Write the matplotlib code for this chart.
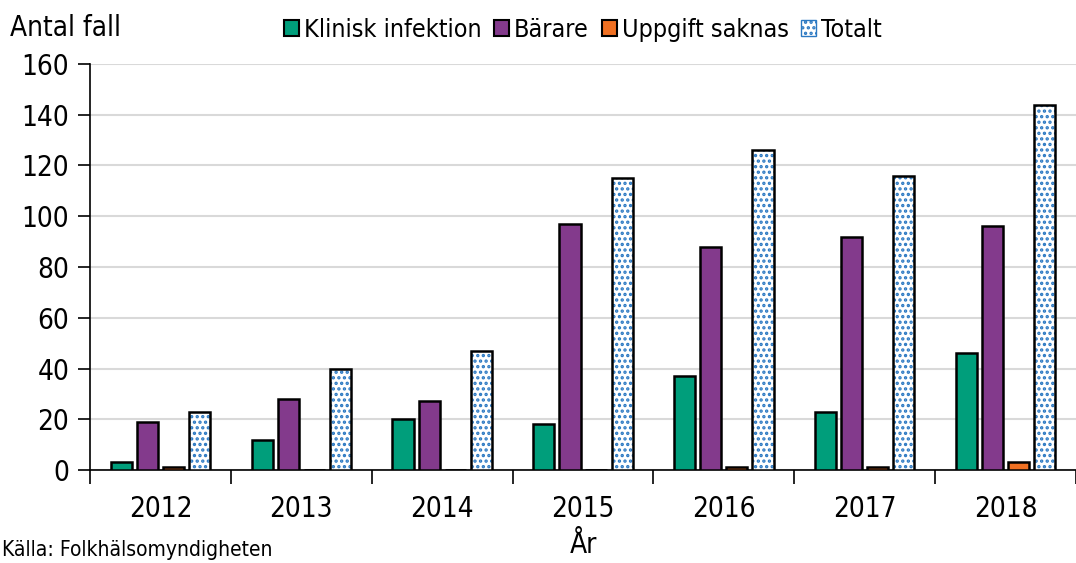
import matplotlib
matplotlib.use("Agg")
import matplotlib.pyplot as plt
import numpy as np
from matplotlib.patches import Patch

plt.rcParams['font.family'] = ['DejaVu Sans']
plt.rcParams['font.stretch'] = 'condensed'

years = ['2012', '2013', '2014', '2015', '2016', '2017', '2018']
klinisk = [3, 12, 20, 18, 37, 23, 46]
barare = [19, 28, 27, 97, 88, 92, 96]
saknas = [1, 0, 0, 0, 1, 1, 3]
totalt = [23, 40, 47, 115, 126, 116, 144]

green = '#009E7B'
purple = '#833A8C'
orange = '#F07022'
dotblue = '#2A78C2'

fig = plt.figure(figsize=(10.76, 5.63), dpi=100)
ax = fig.add_axes([90/1076, 93/563, 986/1076, 406/563])

x = np.arange(len(years))
w = 0.15
step = 0.185
ax.bar(x - 1.5*step, klinisk, w, color=green, edgecolor='black', linewidth=1.8, zorder=3)
ax.bar(x - 0.5*step, barare, w, color=purple, edgecolor='black', linewidth=1.8, zorder=3)
ax.bar(x + 0.5*step, saknas, w, color=orange, edgecolor='black', linewidth=1.8, zorder=3)
plt.rcParams['hatch.linewidth'] = 1.6
ax.bar(x + 1.5*step, totalt, w, color='white', edgecolor=dotblue, hatch='...', linewidth=0, zorder=3)
ax.bar(x + 1.5*step, totalt, w, fill=False, edgecolor='black', linewidth=1.8, zorder=4)

ax.set_xlim(-0.5, len(years) - 0.5)
ax.set_ylim(0, 160)
ax.set_yticks(np.arange(0, 161, 20))
ax.set_xticks(x)
ax.set_xticklabels(years)
ax.set_xticks(np.arange(-0.5, len(years)), minor=True)
ax.tick_params(axis='x', which='major', length=0, labelsize=20, pad=18)
ax.tick_params(axis='x', which='minor', length=10, width=1.2, direction='out')
ax.tick_params(axis='y', length=9, width=1.2, labelsize=20, pad=6)
ax.grid(axis='y', color='#d9d9d9', linewidth=1.5, zorder=0)
for s in ['top', 'right']:
    ax.spines[s].set_visible(False)
ax.spines['left'].set_linewidth(1.2)
ax.spines['bottom'].set_linewidth(1.2)

ax.set_xlabel('År', fontsize=20, labelpad=6)
fig.text(10/1076, 1 - 28/563, 'Antal fall', fontsize=20, va='center', ha='left')
fig.text(2/1076, 1 - 550/563, 'Källa: Folkhälsomyndigheten', fontsize=15, va='center', ha='left')

handles = [Patch(facecolor=green, edgecolor='black', linewidth=1.5),
           Patch(facecolor=purple, edgecolor='black', linewidth=1.5),
           Patch(facecolor=orange, edgecolor='black', linewidth=1.5),
           Patch(facecolor='white', edgecolor=dotblue, hatch='...')]
labels = ['Klinisk infektion', 'Bärare', 'Uppgift saknas', 'Totalt']
fig.legend(handles, labels, loc='center', bbox_to_anchor=(583/1076, 1 - 30/563), ncol=4,
           frameon=False, fontsize=18, handlelength=0.6, handleheight=0.6,
           handletextpad=0.2, columnspacing=0.5)

fig.savefig('out.png', dpi=100)
